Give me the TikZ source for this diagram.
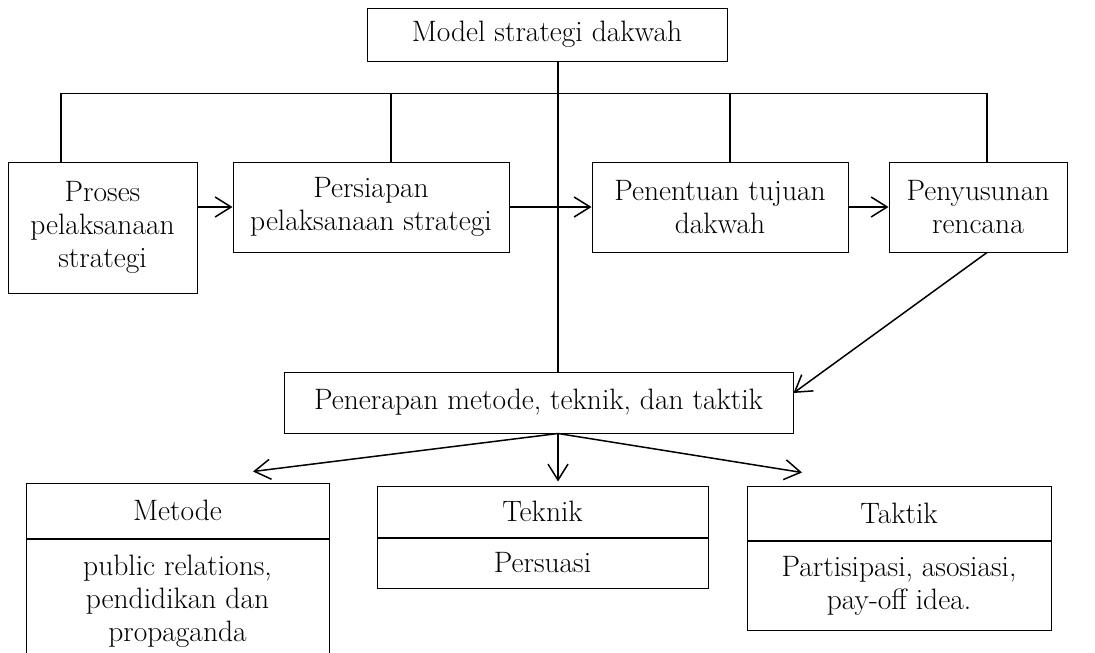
\documentclass[tikz,border=0pt]{standalone}
\usepackage{fontspec}
\usepackage{tikz}
\usetikzlibrary{arrows.meta,positioning,calc}

\begin{document}
\begin{tikzpicture}[
    x=1pt, y=1pt,
    box/.style={rectangle, draw, line width=1pt, inner sep=2pt,
                align=center, font=\fontsize{29.5}{33}\selectfont},
    arr/.style={-{Straight Barb[length=16pt,width=20pt]}, line width=1.5pt},
    link/.style={line width=1.5pt}
  ]
  \useasboundingbox (0,0) rectangle (1095,-653);
  \clip (0,0) rectangle (1095,-653);

  % top and the row of steps
  \node[box, minimum width=360pt, minimum height=53pt] (model) at (547,-34.5)
    {Model strategi dakwah};
  \node[box, minimum width=189pt, minimum height=131pt] (proc) at (102.5,-227.5)
    {Proses\\pelaksanaan\\strategi};
  \node[box, minimum width=276pt, minimum height=90pt,
        below right=0pt and 35pt of proc.north east] (prep)
    {Persiapan\\pelaksanaan strategi};
  \node[box, minimum width=256pt, minimum height=90pt,
        below right=0pt and 82pt of prep.north east] (goal)
    {Penentuan tujuan\\dakwah};
  \node[box, minimum width=178pt, minimum height=90pt,
        below right=0pt and 40pt of goal.north east] (plan)
    {Penyusunan\\rencana};

  \node[box, minimum width=509pt, minimum height=61pt] (apply) at (538.5,-402.5)
    {Penerapan metode, teknik, dan taktik};

  % the three parts
  \node[box, minimum width=303pt, minimum height=55pt] (methead) at (177.5,-510.5) {Metode};
  \node[box, minimum width=303pt, minimum height=124pt, below=0pt of methead] (metbody)
    {public relations,\\pendidikan dan\\propaganda};
  \node[box, minimum width=331pt, minimum height=51pt] (tekhead) at (542.5,-511.5) {Teknik};
  \node[box, minimum width=331pt, minimum height=50pt, below=0pt of tekhead] (tekbody)
    {Persuasi};
  \node[box, minimum width=304pt, minimum height=54pt] (takhead) at (899,-513) {Taktik};
  \node[box, minimum width=304pt, minimum height=89pt, below=0pt of takhead] (takbody)
    {Partisipasi, asosiasi,\\pay-off idea.};

  \coordinate (bus) at ($(model.south)+(0,-32)$);
  \coordinate (hub) at ($(apply.south)+(19.5,0)$);
  \coordinate (d1) at ($(proc.north)+(-41.5,0)$);
  \coordinate (d2) at ($(prep.north)+(20,0)$);
  \coordinate (d3) at ($(goal.north)+(10,0)$);
  \coordinate (d4) at ($(plan.north)+(9,0)$);

  \draw[link] (d1) |- (d4 |- bus) -- (d4);
  \draw[link] (d2) -- (d2 |- bus);
  \draw[link] (d3) -- (d3 |- bus);
  \draw[link] (model.south -| hub) -- (apply.north -| hub);

  \draw[arr] (proc.east |- prep.west) -- (prep.west);
  \draw[arr] (prep) -- (goal);
  \draw[arr] (goal) -- (plan);
  \draw[arr] ($(plan.south)+(9,0)$) -- ($(apply.east)+(0,9.5)$);

  \draw[arr] (hub) -- ($(methead.north)+(75.5,11)$);
  \draw[arr] (hub) -- ($(hub |- tekhead.north)+(0,4)$);
  \draw[arr] (hub) -- ($(takhead.north)+(-97,13)$);
\end{tikzpicture}
\end{document}
